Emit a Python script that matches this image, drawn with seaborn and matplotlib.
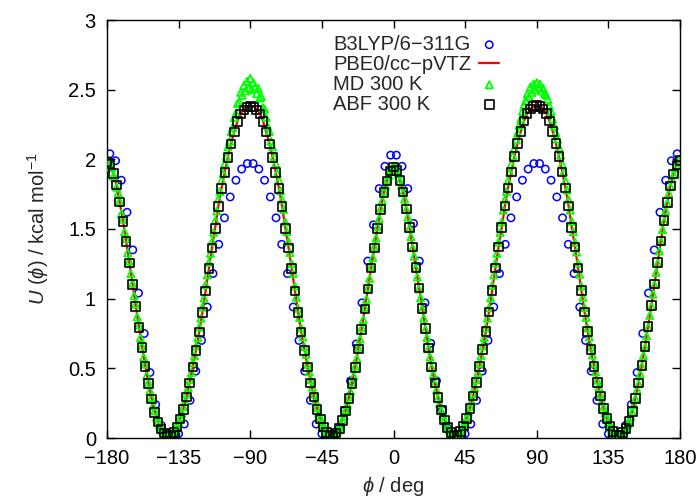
import numpy as np
import pandas as pd
import matplotlib
matplotlib.use("Agg")
import matplotlib.pyplot as plt
import seaborn as sns

# ---------------- data ----------------
phi_grid = np.arange(-180, 181, 2)          # PBE0 line and ABF points (2 deg)
phi_md = np.arange(-180, 181, 1)            # MD points (1 deg)
phi_b3lyp = np.round(np.arange(-178.2, 178.3, 3.6), 1)  # B3LYP points

pbe0 = [1.99, 1.96, 1.895, 1.81, 1.69, 1.56, 1.415, 1.26, 1.105, 0.95,
        0.80, 0.655, 0.52, 0.395, 0.285, 0.19, 0.12, 0.07, 0.04, 0.02,
        0.018, 0.045, 0.085, 0.14, 0.21, 0.30, 0.40, 0.515, 0.635, 0.765,
        0.905, 1.06, 1.22, 1.37, 1.51, 1.665, 1.795, 1.91, 2.02, 2.115,
        2.20, 2.275, 2.33, 2.36, 2.38, 2.385, 2.38, 2.36, 2.33, 2.275,
        2.20, 2.115, 2.02, 1.91, 1.795, 1.665, 1.51, 1.37, 1.22, 1.06,
        0.905, 0.765, 0.635, 0.515, 0.40, 0.30, 0.21, 0.14, 0.085, 0.045,
        0.018, 0.022, 0.04, 0.075, 0.13, 0.20, 0.29, 0.395, 0.51, 0.645,
        0.785, 0.93, 1.075, 1.225, 1.37, 1.51, 1.645, 1.765, 1.85, 1.92,
        1.95,
        1.92, 1.85, 1.765, 1.645, 1.51, 1.37, 1.225, 1.075, 0.93, 0.785,
        0.645, 0.51, 0.395, 0.29, 0.20, 0.13, 0.075, 0.04, 0.022, 0.018,
        0.045, 0.085, 0.14, 0.21, 0.30, 0.40, 0.515, 0.635, 0.765, 0.905,
        1.06, 1.22, 1.37, 1.51, 1.665, 1.795, 1.91, 2.02, 2.115, 2.20,
        2.275, 2.33, 2.36, 2.38, 2.385, 2.38, 2.36, 2.33, 2.275, 2.20,
        2.115, 2.02, 1.91, 1.795, 1.665, 1.51, 1.37, 1.22, 1.06, 0.905,
        0.765, 0.635, 0.515, 0.40, 0.30, 0.21, 0.14, 0.085, 0.045, 0.018,
        0.02, 0.04, 0.07, 0.12, 0.19, 0.285, 0.395, 0.52, 0.655, 0.80,
        0.95, 1.105, 1.26, 1.415, 1.56, 1.69, 1.81, 1.895, 1.96, 1.99]

abf = [1.98, 1.965, 1.90, 1.815, 1.695, 1.555, 1.41, 1.255, 1.10, 0.945,
       0.795, 0.65, 0.515, 0.39, 0.28, 0.185, 0.115, 0.065, 0.035, 0.018,
       0.015, 0.04, 0.08, 0.135, 0.205, 0.295, 0.395, 0.51, 0.63, 0.76,
       0.90, 1.055, 1.215, 1.365, 1.505, 1.66, 1.79, 1.905, 2.015, 2.11,
       2.195, 2.27, 2.325, 2.355, 2.375, 2.38, 2.375, 2.355, 2.325, 2.27,
       2.195, 2.11, 2.015, 1.905, 1.79, 1.66, 1.505, 1.365, 1.215, 1.055,
       0.90, 0.76, 0.63, 0.51, 0.395, 0.295, 0.205, 0.135, 0.08, 0.04,
       0.015, 0.018, 0.035, 0.07, 0.125, 0.195, 0.285, 0.39, 0.505, 0.64,
       0.78, 0.925, 1.07, 1.22, 1.365, 1.505, 1.64, 1.76, 1.845, 1.915,
       1.945,
       1.92, 1.85, 1.765, 1.645, 1.51, 1.37, 1.225, 1.075, 0.93, 0.785,
       0.645, 0.51, 0.395, 0.29, 0.20, 0.13, 0.075, 0.04, 0.02, 0.018,
       0.045, 0.085, 0.14, 0.21, 0.30, 0.40, 0.515, 0.635, 0.765, 0.905,
       1.06, 1.22, 1.37, 1.51, 1.665, 1.795, 1.91, 2.02, 2.115, 2.20,
       2.275, 2.33, 2.36, 2.38, 2.385, 2.38, 2.36, 2.33, 2.275, 2.20,
       2.115, 2.02, 1.91, 1.795, 1.665, 1.51, 1.37, 1.22, 1.06, 0.905,
       0.765, 0.635, 0.515, 0.40, 0.30, 0.21, 0.14, 0.085, 0.045, 0.02,
       0.02, 0.04, 0.07, 0.12, 0.19, 0.285, 0.395, 0.52, 0.655, 0.80,
       0.95, 1.105, 1.26, 1.415, 1.56, 1.69, 1.81, 1.895, 1.96, 1.99]

md = [1.98, 1.99, 1.95, 1.94, 1.88, 1.87, 1.80, 1.76, 1.70, 1.61,
      1.57, 1.48, 1.43, 1.33, 1.27, 1.18, 1.11, 1.02, 0.96, 0.87,
      0.81, 0.72, 0.66, 0.58, 0.53, 0.45, 0.40, 0.34, 0.29, 0.23,
      0.195, 0.15, 0.125, 0.09, 0.072, 0.05, 0.042, 0.03, 0.02, 0.022,
      0.02, 0.03, 0.05, 0.064, 0.092, 0.112, 0.15, 0.18, 0.225, 0.262,
      0.318, 0.362, 0.42, 0.47, 0.54, 0.59, 0.66, 0.72, 0.795, 0.86,
      0.94, 1.005, 1.10, 1.17, 1.26, 1.325, 1.41, 1.475, 1.56, 1.63,
      1.715, 1.77, 1.85, 1.90, 1.97, 2.02, 2.09, 2.13, 2.20, 2.23,
      2.30, 2.33, 2.40, 2.41, 2.48, 2.46, 2.53, 2.49, 2.56, 2.51,
      2.58, 2.50, 2.55, 2.52, 2.47, 2.51, 2.44, 2.45, 2.37, 2.36,
      2.30, 2.235, 2.20, 2.13, 2.09, 2.02, 1.97, 1.90, 1.85, 1.775,
      1.71, 1.64, 1.55, 1.48, 1.41, 1.33, 1.25, 1.18, 1.09, 1.01,
      0.93, 0.865, 0.79, 0.725, 0.655, 0.60, 0.53, 0.475, 0.42, 0.365,
      0.315, 0.265, 0.22, 0.18, 0.15, 0.115, 0.09, 0.065, 0.048, 0.03,
      0.02, 0.018, 0.025, 0.03, 0.042, 0.055, 0.078, 0.10, 0.132, 0.16,
      0.205, 0.24, 0.295, 0.335, 0.40, 0.445, 0.515, 0.57, 0.65, 0.71,
      0.79, 0.85, 0.935, 0.995, 1.08, 1.145, 1.23, 1.295, 1.375, 1.435,
      1.515, 1.575, 1.65, 1.705, 1.77, 1.81, 1.855, 1.885, 1.925, 1.935,
      1.95,
      1.945, 1.915, 1.895, 1.845, 1.815, 1.76, 1.715, 1.64, 1.585, 1.505,
      1.445, 1.365, 1.305, 1.22, 1.155, 1.07, 1.005, 0.925, 0.86, 0.78,
      0.72, 0.64, 0.58, 0.505, 0.455, 0.39, 0.345, 0.285, 0.248, 0.195,
      0.165, 0.128, 0.102, 0.072, 0.057, 0.038, 0.032, 0.02, 0.02, 0.018,
      0.032, 0.045, 0.068, 0.088, 0.118, 0.145, 0.185, 0.225, 0.262, 0.32,
      0.362, 0.418, 0.47, 0.535, 0.592, 0.66, 0.72, 0.79, 0.86, 0.935,
      1.005, 1.095, 1.17, 1.255, 1.325, 1.405, 1.475, 1.55, 1.635, 1.71,
      1.77, 1.845, 1.905, 1.965, 2.025, 2.08, 2.14, 2.19, 2.245, 2.29,
      2.345, 2.39, 2.42, 2.47, 2.45, 2.52, 2.48, 2.54, 2.50, 2.55,
      2.52, 2.54, 2.49, 2.51, 2.47, 2.46, 2.43, 2.38, 2.345, 2.29,
      2.24, 2.19, 2.145, 2.085, 2.03, 1.965, 1.91, 1.845, 1.78, 1.71,
      1.635, 1.555, 1.48, 1.405, 1.335, 1.255, 1.175, 1.09, 1.01, 0.935,
      0.865, 0.79, 0.725, 0.655, 0.595, 0.535, 0.475, 0.415, 0.365, 0.315,
      0.265, 0.222, 0.182, 0.148, 0.115, 0.09, 0.066, 0.048, 0.032, 0.02,
      0.02, 0.022, 0.027, 0.04, 0.055, 0.07, 0.095, 0.118, 0.155, 0.188,
      0.238, 0.283, 0.345, 0.39, 0.46, 0.515, 0.592, 0.65, 0.732, 0.795,
      0.88, 0.945, 1.032, 1.10, 1.188, 1.255, 1.342, 1.41, 1.495, 1.555,
      1.63, 1.685, 1.755, 1.805, 1.86, 1.89, 1.935, 1.955, 1.985, 1.985]

b3lyp = [2.04, 1.99, 1.85, 1.62, 1.35, 1.04, 0.75, 0.47, 0.24, 0.09,
         0.02, 0.005, 0.03, 0.10, 0.27, 0.48, 0.70, 0.94, 1.18, 1.39,
         1.58, 1.73, 1.85, 1.93, 1.97, 1.97, 1.93, 1.85, 1.73, 1.58,
         1.39, 1.18, 0.94, 0.70, 0.48, 0.27, 0.10, 0.03, 0.005, 0.015,
         0.07, 0.20, 0.41, 0.675, 0.97, 1.27, 1.53, 1.79, 1.95, 2.03,
         2.03, 1.95, 1.79, 1.54, 1.27, 0.97, 0.68, 0.41, 0.20, 0.07,
         0.015, 0.005, 0.03, 0.10, 0.27, 0.48, 0.70, 0.94, 1.18, 1.39,
         1.58, 1.73, 1.85, 1.93, 1.97, 1.97, 1.93, 1.85, 1.73, 1.58,
         1.39, 1.18, 0.94, 0.70, 0.48, 0.27, 0.10, 0.03, 0.005, 0.02,
         0.09, 0.24, 0.47, 0.75, 1.04, 1.35, 1.62, 1.85, 1.99, 2.04]

labels = ["B3LYP/6\u2212311G", "PBE0/cc\u2212pVTZ", "MD 300 K", "ABF 300 K"]
x_ticks = [-180, -135, -90, -45, 0, 45, 90, 135, 180]
x_ticklabels = ["\u2212180", "\u2212135", "\u221290", "\u221245", "0", "45", "90", "135", "180"]
y_ticks = [0, 0.5, 1, 1.5, 2, 2.5, 3]
y_ticklabels = ["0", "0.5", "1", "1.5", "2", "2.5", "3"]

# ---------------- style ----------------
sns.set_theme(style="ticks")
plt.rcParams["font.family"] = ["Liberation Sans", "DejaVu Sans"]
plt.rcParams["mathtext.fontset"] = "custom"
plt.rcParams["mathtext.rm"] = "Liberation Sans"
plt.rcParams["mathtext.it"] = "Liberation Sans:italic"
plt.rcParams["mathtext.sf"] = "Liberation Sans"
plt.rcParams["mathtext.fallback"] = "cm"

FS = 14.5
fig = plt.figure(figsize=(7.0, 4.99), dpi=100)
ax = fig.add_axes([107 / 700, 61 / 499, 573 / 700, 418 / 499])

sns.scatterplot(x=phi_b3lyp, y=b3lyp, marker="o", s=28, facecolor="none",
                edgecolor="#0000ff", linewidth=1.1, ax=ax, label=labels[0], zorder=2)
sns.lineplot(x=phi_grid, y=pbe0, color="#ff0000", linewidth=1.6, ax=ax,
             label=labels[1], zorder=3)
sns.scatterplot(x=phi_md, y=md, marker="^", s=26, facecolor="none",
                edgecolor="#00ff00", linewidth=1.3, ax=ax, label=labels[2], zorder=4)
sns.scatterplot(x=phi_grid, y=abf, marker="s", s=38, facecolor="none",
                edgecolor="black", linewidth=1.2, ax=ax, label=labels[3], zorder=5)

ax.set_xlim(-180, 180)
ax.set_ylim(0, 3)
ax.set_xticks(x_ticks)
ax.set_xticklabels(x_ticklabels)
ax.set_yticks(y_ticks)
ax.set_yticklabels(y_ticklabels)
ax.tick_params(direction="in", length=6, width=1, top=True, right=True,
               labelsize=FS, pad=8, colors="black")
for sp in ax.spines.values():
    sp.set_visible(True)
    sp.set_linewidth(1.0)
    sp.set_color("black")

ax.set_xlabel(r"$\phi$ / deg", fontsize=FS)
ax.set_ylabel(r"$U\ (\phi)$ / kcal mol$^{-1}$", fontsize=FS)
ax.xaxis.set_label_coords(0.5, -0.088)
ax.yaxis.set_label_coords(-0.097, 0.5)

base_sep = 0.4
leg = ax.legend(loc="upper left", bbox_to_anchor=(333 / 700, 1 - 35 / 499),
                bbox_transform=fig.transFigure, frameon=False, markerfirst=False,
                handlelength=1.0, handletextpad=base_sep, labelspacing=0.05,
                borderpad=0, borderaxespad=0, fontsize=FS)

# left-align legend texts while keeping the keys in one column on the right
renderer = fig.canvas.get_renderer()
widths = [t.get_window_extent(renderer).width for t in leg.get_texts()]
maxw = max(widths)
column = leg._legend_handle_box.get_children()[0]
for item, w in zip(column.get_children(), widths):
    item.sep = base_sep * FS + (maxw - w) * 72.0 / fig.dpi

fig.savefig("out.png", dpi=100)
